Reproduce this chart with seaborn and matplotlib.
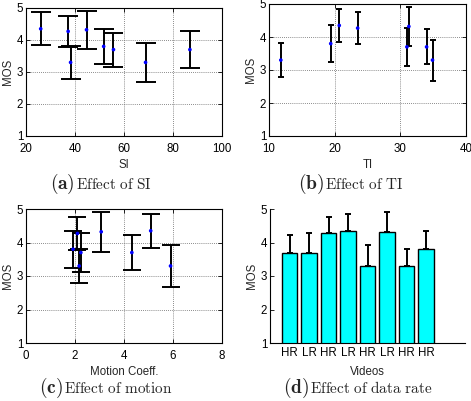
import numpy as np
import pandas as pd
import matplotlib
matplotlib.use("Agg")
import matplotlib.pyplot as plt
import seaborn as sns

# per-video values
video_id = ["V1", "V2", "V3", "V4", "V5", "V6", "V7", "V8"]
data_rate = ["HR", "LR", "HR", "LR", "HR", "LR", "HR", "HR"]
mos = [3.70, 3.70, 4.27, 4.35, 3.30, 4.32, 3.30, 3.80]
ci = [0.53, 0.57, 0.48, 0.51, 0.62, 0.59, 0.52, 0.55]
si = [55.7, 86.9, 37.2, 26.0, 68.8, 44.7, 38.2, 51.7]
ti = [34.0, 31.0, 23.5, 20.7, 34.9, 31.3, 11.8, 19.4]
motion = [4.32, 2.24, 2.10, 5.09, 5.90, 3.07, 2.17, 1.92]

df = pd.DataFrame({"video": video_id, "rate": data_rate, "MOS": mos, "ci": ci,
                   "SI": si, "TI": ti, "motion": motion})

sns.set_style("white")
plt.rcParams["font.family"] = ["Liberation Sans", "DejaVu Sans"]
plt.rcParams["mathtext.fontset"] = "cm"
plt.rcParams["xtick.direction"] = "in"
plt.rcParams["ytick.direction"] = "in"

W, H = 471, 401
fig = plt.figure(figsize=(W / 100, H / 100), dpi=100)
FS = 8.3


def px_axes(left, top, right, bottom):
    return fig.add_axes([left / W, 1 - bottom / H, (right - left) / W, (bottom - top) / H])


def style_axes(ax, xlim, xticks, grid=True):
    ax.set_xlim(*xlim)
    ax.set_ylim(1, 5)
    ax.set_xticks(xticks)
    ax.set_yticks([1, 2, 3, 4, 5])
    ax.tick_params(labelsize=FS, length=3, width=0.6, colors="black",
                   top=grid, right=grid, bottom=True, left=True)
    ax.tick_params(axis="x", pad=5)
    ax.tick_params(axis="y", pad=2)
    for s in ax.spines.values():
        s.set_color("black")
        s.set_linewidth(0.8)
    if grid:
        ax.grid(True, linestyle=(0, (1, 1.5)), color="#666666", linewidth=0.6)
    ax.set_axisbelow(True)


def scatter_panel(ax, xcol, xlim, xticks, xlabel, capsize):
    ax.errorbar(df[xcol], df["MOS"], yerr=df["ci"], fmt="none", ecolor="black",
                elinewidth=1.4, capsize=capsize, capthick=1.4, zorder=2)
    sns.scatterplot(data=df, x=xcol, y="MOS", ax=ax, color="blue", s=7,
                    marker="o", edgecolor="none", zorder=3)
    style_axes(ax, xlim, xticks)
    ax.set_xlabel(xlabel, fontsize=FS, labelpad=3)
    ax.set_ylabel("MOS", fontsize=FS, labelpad=2)


ax_a = px_axes(26, 8, 222, 136)
scatter_panel(ax_a, "SI", (20, 100), [20, 40, 60, 80, 100], "SI", 7)

ax_b = px_axes(269, 4, 466, 136)
scatter_panel(ax_b, "TI", (10, 40), [10, 20, 30, 40], "TI", 2.5)

ax_c = px_axes(26, 209, 222, 343)
scatter_panel(ax_c, "motion", (0, 8), [0, 2, 4, 6, 8], "Motion Coeff.", 6.5)

# (d) bar chart of MOS per video
ax_d = px_axes(270, 209, 465, 343)
sns.barplot(data=df, x="video", y="MOS", ax=ax_d, color="#00FFFF", saturation=1,
            edgecolor="black", linewidth=1.0, width=0.8, errorbar=None, zorder=2)
ax_d.errorbar(range(len(df)), df["MOS"], yerr=[np.zeros(len(df)), df["ci"]],
              fmt="none", ecolor="black", elinewidth=1.4, capsize=2, capthick=1.4, zorder=3)
style_axes(ax_d, (-1, 9), range(len(df)), grid=False)
ax_d.set_xticklabels(data_rate)
ax_d.set_ylim(1, 5)
sns.despine(ax=ax_d)
ax_d.tick_params(bottom=False)
ax_d.tick_params(axis="x", pad=3)
ax_d.set_xlabel("Videos", fontsize=FS, labelpad=5)
ax_d.set_ylabel("MOS", fontsize=FS, labelpad=2)

# sub-captions
captions = [
    (50, 189, "a", "Effect of SI"),
    (298, 189, "b", "Effect of TI"),
    (39, 393, "c", "Effect of motion"),
    (283, 393, "d", "Effect of data rate"),
]
for x0, y0, letter, label in captions:
    t = fig.text(x0 / W, 1 - y0 / H, r"$(\mathbf{%s})$" % letter, fontsize=14, va="baseline")
    fig.canvas.draw()
    bb = t.get_window_extent()
    fig.text(bb.x1 / W + 1 / W, 1 - y0 / H, r"$\mathrm{%s}$" % label.replace(" ", r"\ "),
             fontsize=11, va="baseline")

fig.savefig("out.png", dpi=100)
